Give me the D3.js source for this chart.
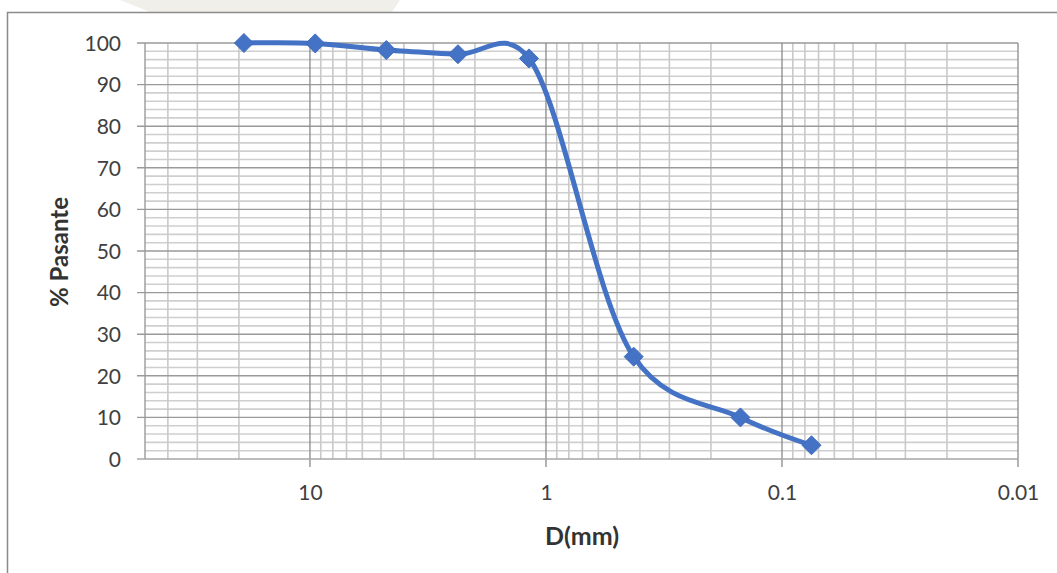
<!DOCTYPE html>
<html><head><meta charset="utf-8">
<script src="https://cdn.jsdelivr.net/npm/d3@7"></script>
<style>
html,body{margin:0;padding:0;background:#fff;}
svg{display:block;}
text{font-family:Lato,"Open Sans",sans-serif;}
</style></head>
<body>
<svg id="chart" width="1057" height="573"></svg>
<script>
// Data: sieve opening (mm) and percent passing
const sizes = [19.05, 9.5, 4.75, 2.36, 1.18, 0.425, 0.15, 0.075];
const passing = [100, 99.9, 98.3, 97.3, 96.3, 24.6, 10.0, 3.3];
const xTickValues = [10, 1, 0.1, 0.01];
const xTickLabels = ["10", "1", "0.1", "0.01"];
const yTickValues = [0, 10, 20, 30, 40, 50, 60, 70, 80, 90, 100];
const xTitle = "D(mm)";
const yTitle = "% Pasante";

const svg = d3.select("#chart");
const m = {left:145, right:1018, top:43, bottom:459};

// faint watermark at top
svg.append("path")
  .attr("d","M120,0 L400,0 L392,12 L150,12 Z")
  .attr("fill","#ecebe4").attr("opacity",0.8);

// outer chart border (left & top visible)
svg.append("rect").attr("x",7.5).attr("y",12.5).attr("width",1060).attr("height",580)
  .attr("fill","none").attr("stroke","#8a8a8a").attr("stroke-width",1.5);

const x = d3.scaleLog().domain([50, 0.01]).range([m.left, m.right]);
const y = d3.scaleLinear().domain([0, 100]).range([m.bottom, m.top]);

const g = svg.append("g");

// minor horizontal grid (every 2)
const yMinor = d3.range(0, 101, 2).filter(v => v % 10 !== 0);
g.selectAll(".hmin").data(yMinor).join("line")
  .attr("x1", m.left).attr("x2", m.right)
  .attr("y1", d => y(d)).attr("y2", d => y(d))
  .attr("stroke", "#cfcfcf").attr("stroke-width", 1.6);

// minor vertical grid
const xMinor = [];
[0.01, 0.1, 1, 10].forEach(dec => { for (let k = 2; k <= 9; k++) { const v = dec * k; if (v < 50) xMinor.push(v); } });
g.selectAll(".vmin").data(xMinor).join("line")
  .attr("x1", d => x(d)).attr("x2", d => x(d))
  .attr("y1", m.top).attr("y2", m.bottom)
  .attr("stroke", "#c9c9c9").attr("stroke-width", 1.6);

// major horizontal grid
g.selectAll(".hmaj").data(yTickValues.filter(v => v > 0)).join("line")
  .attr("x1", m.left - 8).attr("x2", m.right)
  .attr("y1", d => y(d)).attr("y2", d => y(d))
  .attr("stroke", "#9a9a9a").attr("stroke-width", 1.4);

// major vertical grid
g.selectAll(".vmaj").data(xTickValues).join("line")
  .attr("x1", d => x(d)).attr("x2", d => x(d))
  .attr("y1", m.top).attr("y2", m.bottom + 8)
  .attr("stroke", "#8a8a8a").attr("stroke-width", 1.3);

// plot left border & bottom axis line
g.append("line").attr("x1", m.left).attr("x2", m.left).attr("y1", m.top).attr("y2", m.bottom)
  .attr("stroke", "#9a9a9a").attr("stroke-width", 1.4);
g.append("line").attr("x1", m.left - 8).attr("x2", m.right).attr("y1", m.bottom).attr("y2", m.bottom)
  .attr("stroke", "#a6a6a6").attr("stroke-width", 1.6);

// axes labels via d3 axes (no domain/ticks drawn)
const yAxis = d3.axisLeft(y).tickValues(yTickValues).tickSize(0).tickPadding(0).tickFormat(d3.format("d"));
svg.append("g").attr("transform", `translate(${m.left - 24},0)`).call(yAxis)
  .call(s => s.select(".domain").remove())
  .selectAll("text").attr("font-size", 21).attr("fill", "#404040").attr("font-family", "Lato").attr("dy", "0.35em");

const xAxis = d3.axisBottom(x).tickValues(xTickValues).tickSize(0).tickPadding(0)
  .tickFormat((d, i) => xTickLabels[i]);
svg.append("g").attr("transform", `translate(0,${m.bottom + 26})`).call(xAxis)
  .call(s => s.select(".domain").remove())
  .selectAll("text").attr("font-size", 21).attr("fill", "#404040").attr("font-family", "Lato").attr("dy", "0.71em");

// titles
svg.append("text").attr("x", 582).attr("y", 545).attr("text-anchor", "middle")
  .attr("font-family", "Open Sans").attr("font-size", 25).attr("font-weight", "bold").attr("fill", "#333").text(xTitle);
svg.append("text").attr("transform", "translate(68,252) rotate(-90)").attr("text-anchor", "middle")
  .attr("font-family", "Open Sans").attr("font-size", 24).attr("font-weight", "bold").attr("fill", "#333").text(yTitle);

// curve
const pts = sizes.map((s, i) => [x(s), y(passing[i])]);
const line = d3.line().curve(d3.curveCatmullRom.alpha(0.2));
svg.append("path").attr("d", line(pts)).attr("fill", "none")
  .attr("stroke", "#4472C4").attr("stroke-width", 5).attr("stroke-linejoin", "round");

// diamond markers
svg.selectAll(".mk").data(sizes).join("path")
  .attr("transform", (d, i) => `translate(${x(d)},${y(passing[i])})`)
  .attr("d", "M0,-9.5 L9.5,0 L0,9.5 L-9.5,0 Z")
  .attr("fill", "#4472C4").attr("stroke", "#3f6cbf").attr("stroke-width", 1);
</script>
</body></html>
